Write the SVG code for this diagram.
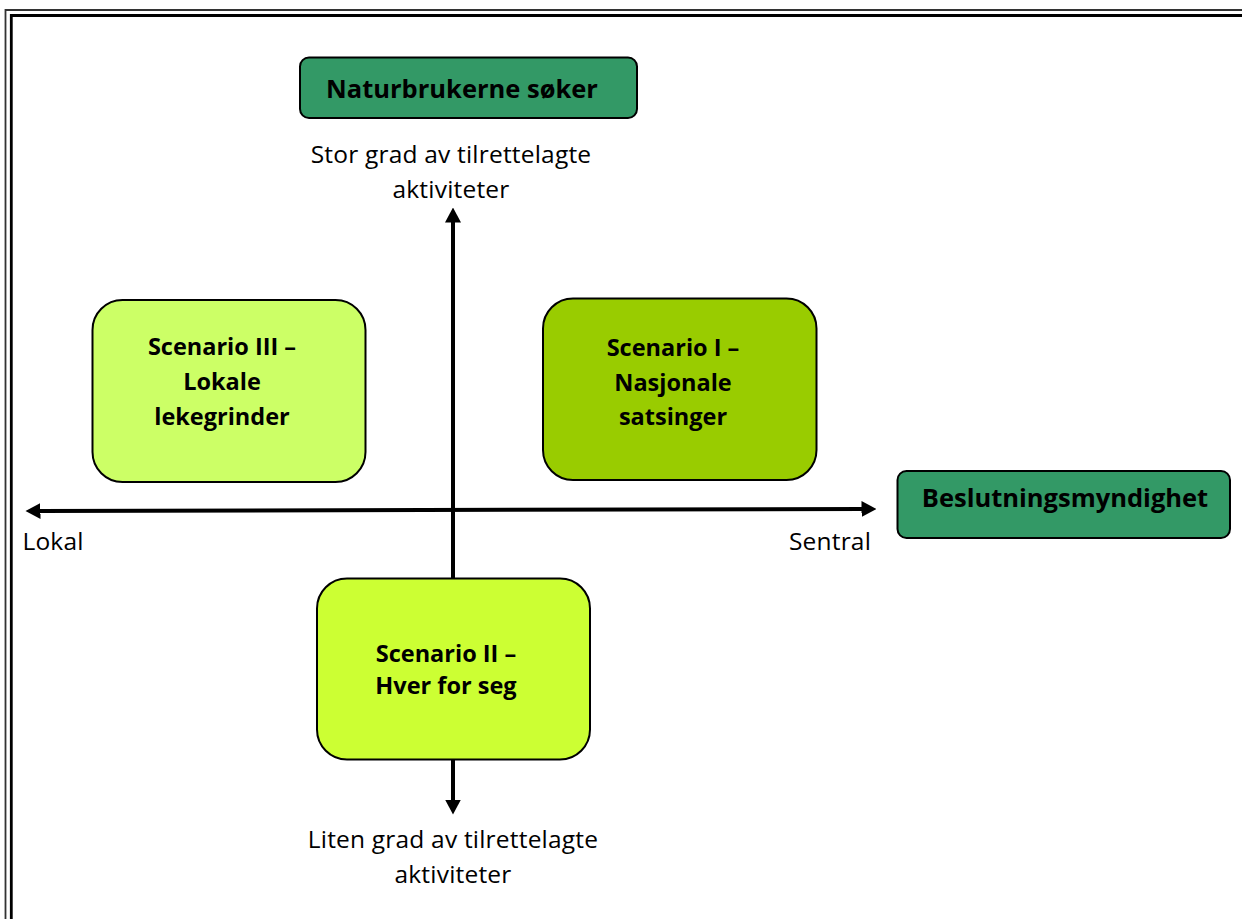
<svg xmlns="http://www.w3.org/2000/svg" width="1242" height="919" viewBox="0 0 1242 919">
<style>
.box{stroke:#000;stroke-width:2}
.dark{fill:#339966}
.t{font-family:"Open Sans","Noto Sans","Liberation Sans",sans-serif;fill:#000;text-anchor:middle}
.r{font-size:24.5px;letter-spacing:0.2px}
.b{font-weight:bold}
.s{font-size:23.5px}
.h{font-size:25.5px}
.axis{stroke:#000;stroke-width:4;fill:none}
</style>
<defs>
<marker id="ah" viewBox="0 0 15 16" refX="0.5" refY="8" markerWidth="15" markerHeight="16" markerUnits="userSpaceOnUse" orient="auto-start-reverse">
<path d="M0,0 L15,8 L0,16 z" fill="#000"/>
</marker>
</defs>
<rect width="1242" height="919" fill="#fff"/>
<g id="frame">
<path d="M5.5,919 V10 H1242" fill="none" stroke="#333" stroke-width="1.8"/>
<path d="M11.3,919 V15.5 H1242" fill="none" stroke="#000" stroke-width="2.8"/>
</g>
<g id="connectors">
<line class="axis" x1="453" y1="800" x2="453" y2="222" marker-start="url(#ah)" marker-end="url(#ah)"/>
<line class="axis" x1="40" y1="511" x2="862" y2="509" marker-start="url(#ah)" marker-end="url(#ah)"/>
</g>
<g id="naturbrukerne">
<rect class="box dark" x="300" y="57.5" width="337" height="60.5" rx="9"/>
<text class="t b h" x="462" y="98">Naturbrukerne søker</text>
</g>
<g id="stor-grad">
<text class="t r" x="451" y="163">Stor grad av tilrettelagte</text>
<text class="t r" x="451" y="198">aktiviteter</text>
</g>
<g id="scenario3">
<rect class="box" fill="#ccff66" x="92.5" y="300" width="273" height="182" rx="30"/>
<text class="t b s" x="222" y="355">Scenario III –</text>
<text class="t b s" x="222" y="390">Lokale</text>
<text class="t b s" x="222" y="425">lekegrinder</text>
</g>
<g id="scenario1">
<rect class="box" fill="#99cc00" x="543" y="298.5" width="273.5" height="181.5" rx="30"/>
<text class="t b s" x="673" y="356">Scenario I –</text>
<text class="t b s" x="673" y="391">Nasjonale</text>
<text class="t b s" x="673" y="425">satsinger</text>
</g>
<g id="beslutning">
<rect class="box dark" x="897.5" y="471" width="332.5" height="67" rx="9"/>
<text class="t b h" x="1065" y="507">Beslutningsmyndighet</text>
</g>
<g id="lokal">
<text class="t r" x="53" y="550">Lokal</text>
</g>
<g id="sentral">
<text class="t r" x="830" y="550">Sentral</text>
</g>
<g id="scenario2">
<rect class="box" fill="#ccff33" x="317" y="578.5" width="273" height="181" rx="30"/>
<text class="t b s" x="446" y="662">Scenario II –</text>
<text class="t b s" x="446" y="694">Hver for seg</text>
</g>
<g id="liten-grad">
<text class="t r" x="453" y="848">Liten grad av tilrettelagte</text>
<text class="t r" x="453" y="883">aktiviteter</text>
</g>
</svg>
